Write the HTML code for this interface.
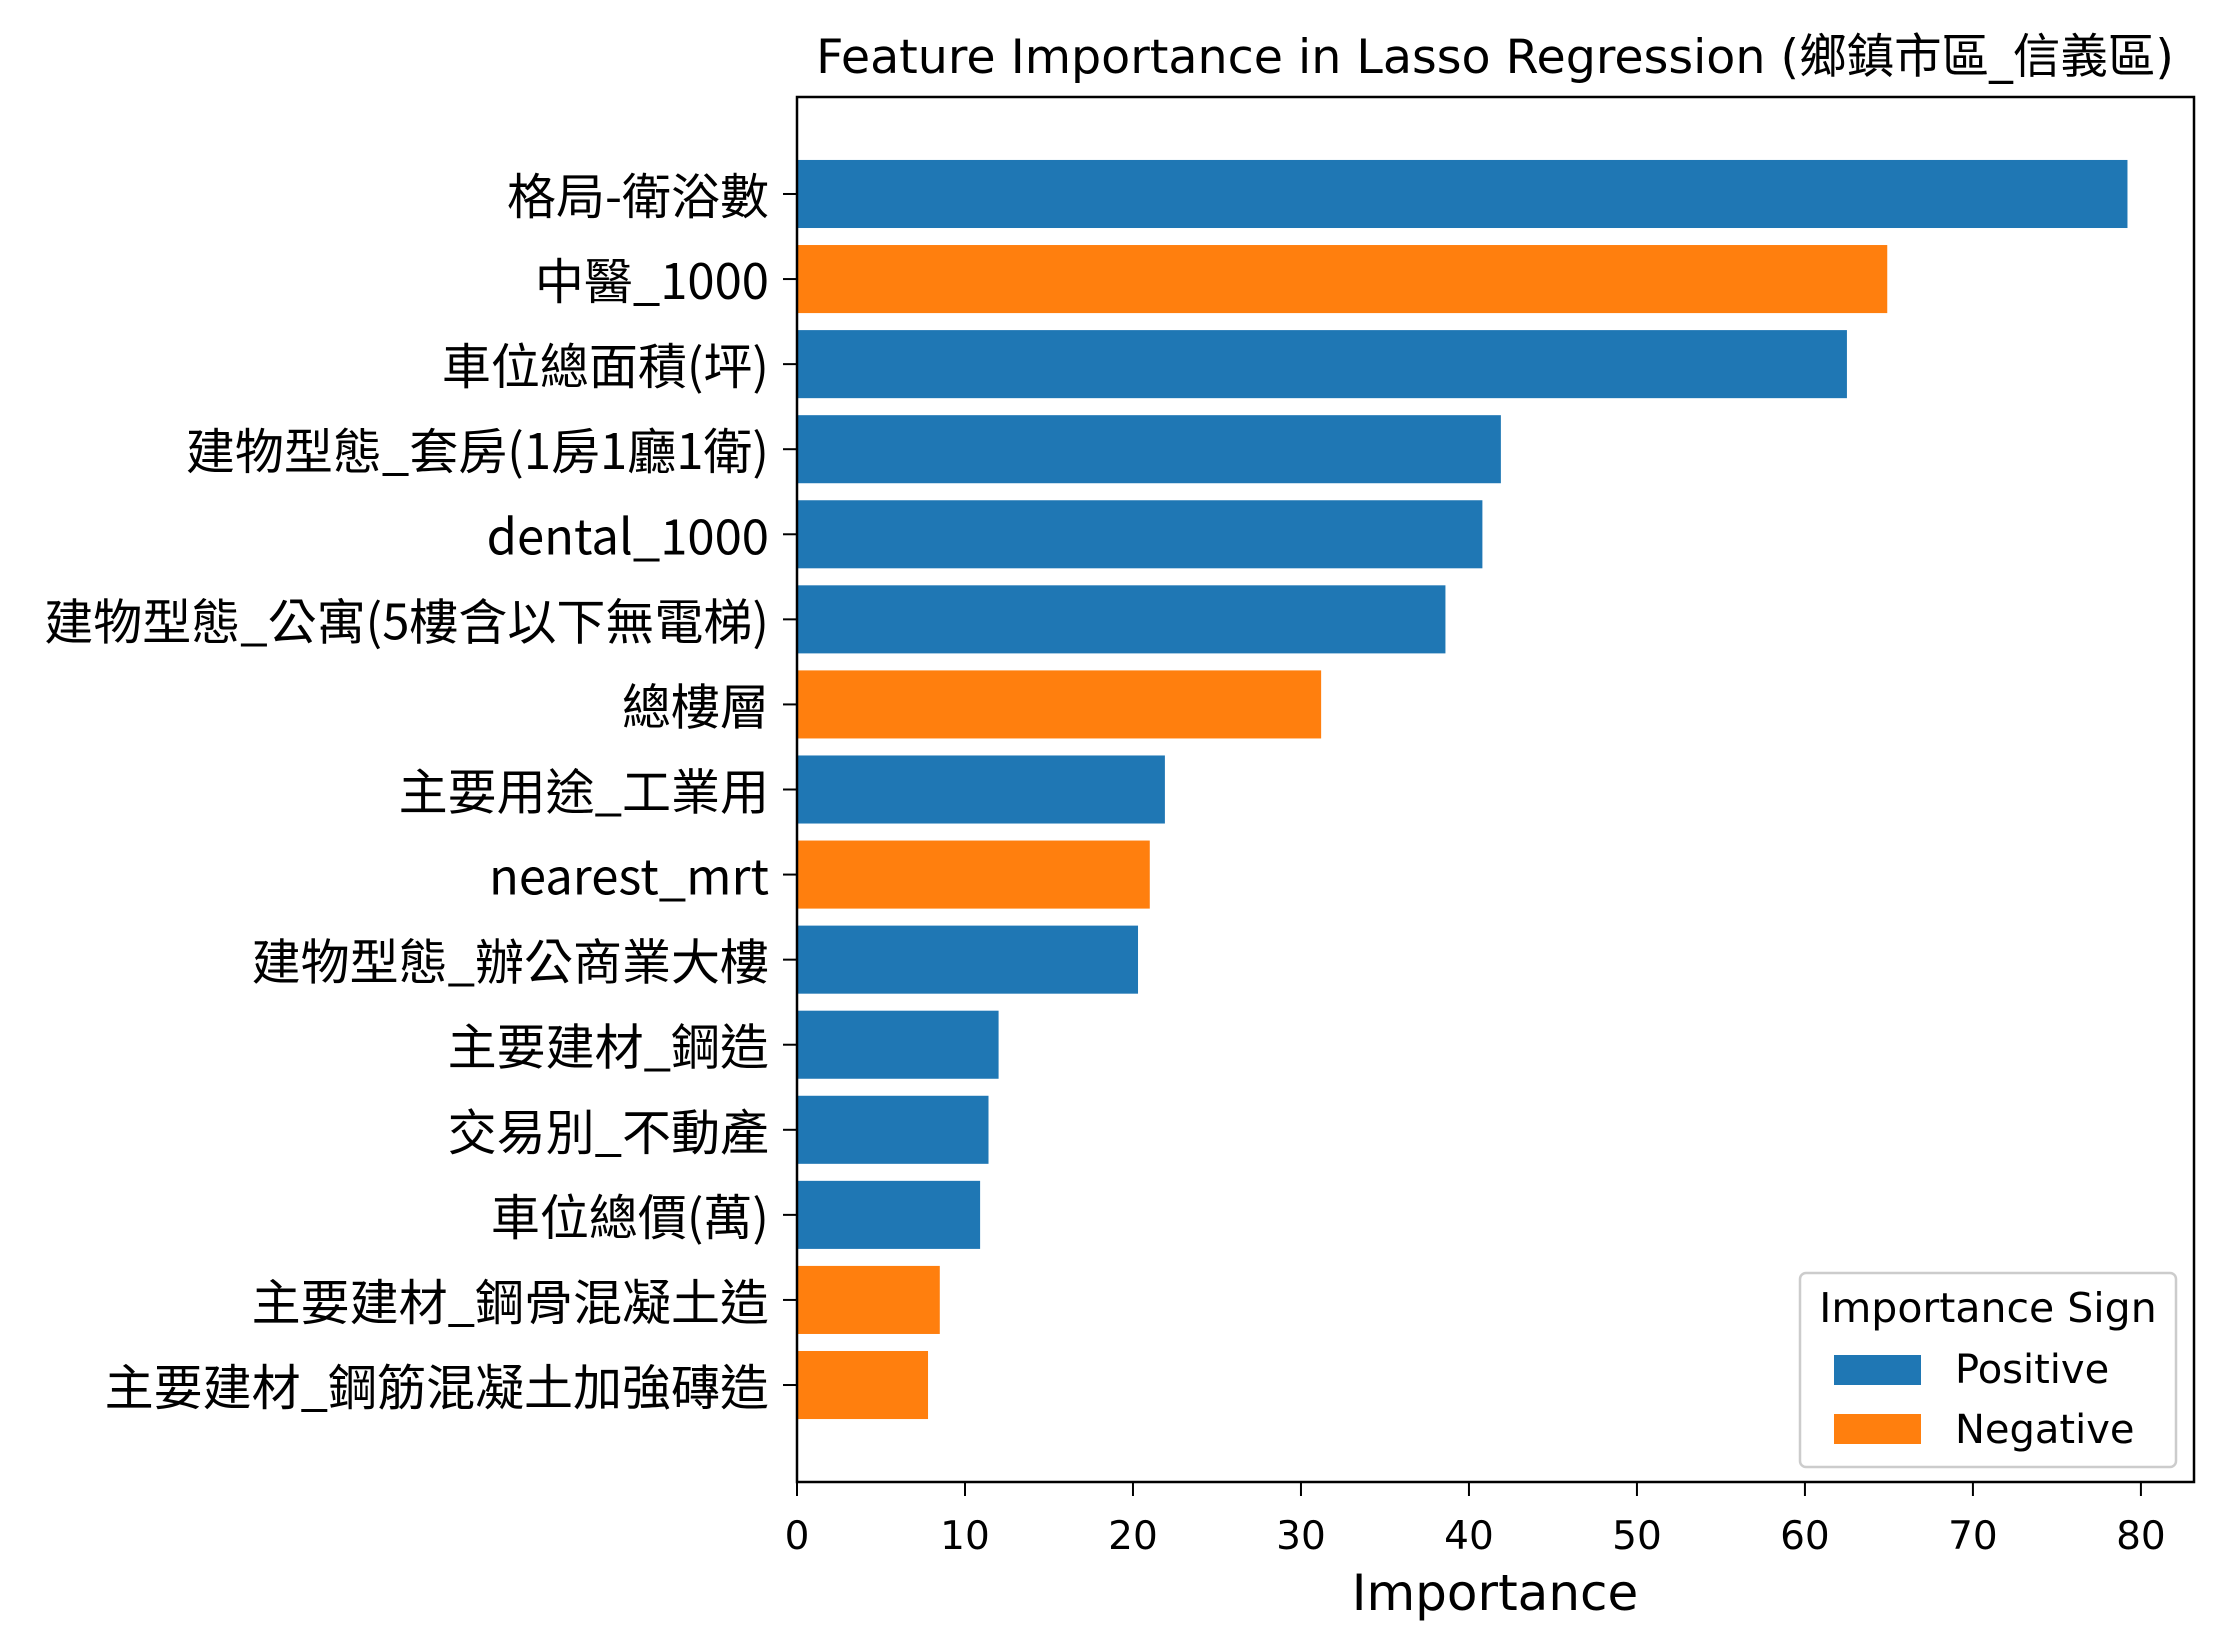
<!DOCTYPE html>
<html><head><meta charset="utf-8"><style>
html,body{margin:0;padding:0;background:#fff;}
svg{display:block;}
</style></head><body>
<svg id="chart" width="2222" height="1647" viewBox="0 0 2222 1647" xmlns="http://www.w3.org/2000/svg">
<rect width="2222" height="1647" fill="#fff"/>
<text x="1495" y="73" text-anchor="middle" font-family="DejaVu Sans, Noto Sans CJK TC, sans-serif" font-size="47.5">Feature Importance in Lasso Regression (鄉鎮市區_信義區)</text>
<g id="bars"></g>
<g id="yticks"></g>
<g id="xticks"></g>
<rect x="797" y="97" width="1397" height="1385" fill="none" stroke="#000" stroke-width="2.5"/>
<text x="1495" y="1610" text-anchor="middle" font-family="DejaVu Sans, sans-serif" font-size="50">Importance</text>
<g>
<rect x="1800" y="1273" width="376" height="194" rx="6" fill="#fff" fill-opacity="0.8" stroke="#ccc" stroke-width="2.5"/>
<text x="1988" y="1322" text-anchor="middle" font-family="DejaVu Sans, sans-serif" font-size="41">Importance Sign</text>
<rect x="1834" y="1355" width="87" height="30" fill="#1f77b4"/>
<text x="1955" y="1383" font-family="DejaVu Sans, sans-serif" font-size="40">Positive</text>
<rect x="1834" y="1414" width="87" height="30" fill="#ff7f0e"/>
<text x="1955" y="1443" font-family="DejaVu Sans, sans-serif" font-size="40">Negative</text>
</g>
</svg>
<script>
const categories = ["格局-衛浴數","中醫_1000","車位總面積(坪)","建物型態_套房(1房1廳1衛)","dental_1000","建物型態_公寓(5樓含以下無電梯)","總樓層","主要用途_工業用","nearest_mrt","建物型態_辦公商業大樓","主要建材_鋼造","交易別_不動產","車位總價(萬)","主要建材_鋼骨混凝土造","主要建材_鋼筋混凝土加強磚造"];
const values = [79.2,64.9,62.5,41.9,40.8,38.6,31.2,21.9,21.0,20.3,12.0,11.4,10.9,8.5,7.8];
const signs = ["Positive","Negative","Positive","Positive","Positive","Positive","Negative","Positive","Negative","Positive","Positive","Positive","Positive","Negative","Negative"];
const xTicks = [0,10,20,30,40,50,60,70,80];

const NS="http://www.w3.org/2000/svg";
const L=797,R=2194,T=97,B=1482;
const xmax=Math.max(...values)*1.05;
const n=categories.length;
const ymin=-0.4-0.74*(n-1+0.8)/14.8, ymax=(n-1)+0.4+0.74*(n-1+0.8)/14.8;
const xs=v=>L+(v/xmax)*(R-L);
const ys=i=>T+(i-ymin)/(ymax-ymin)*(B-T);
const bw=0.8*(B-T)/(ymax-ymin);
const gb=document.getElementById('bars'),gy=document.getElementById('yticks'),gx=document.getElementById('xticks');
function mk(t,a){const e=document.createElementNS(NS,t);for(const k in a)e.setAttribute(k,a[k]);return e;}
values.forEach((v,i)=>{
  const r=mk('rect',{x:xs(0),y:ys(i)-bw/2,width:xs(v)-xs(0),height:bw,fill:signs[i]==="Positive"?"#1f77b4":"#ff7f0e"});
  
  
  gb.appendChild(r);
  const tk=mk('line',{x1:L-14,x2:L,y1:ys(i),y2:ys(i),stroke:"#000","stroke-width":2});
  
  
  gy.appendChild(tk);
  const tx=mk('text',{x:L-28,y:ys(i)+20,"text-anchor":"end","font-family":"Noto Sans CJK TC, DejaVu Sans, sans-serif","font-size":49});
  tx.textContent=categories[i];
  
  
  gy.appendChild(tx);
});
xTicks.forEach(t=>{
  const tk=mk('line',{x1:xs(t),x2:xs(t),y1:B,y2:B+14,stroke:"#000","stroke-width":2});
  
  
  gx.appendChild(tk);
  const tx=mk('text',{x:xs(t),y:1549,"text-anchor":"middle","font-family":"DejaVu Sans, sans-serif","font-size":39});
  tx.textContent=t;
  
  
  gx.appendChild(tx);
});
</script>
</body></html>
